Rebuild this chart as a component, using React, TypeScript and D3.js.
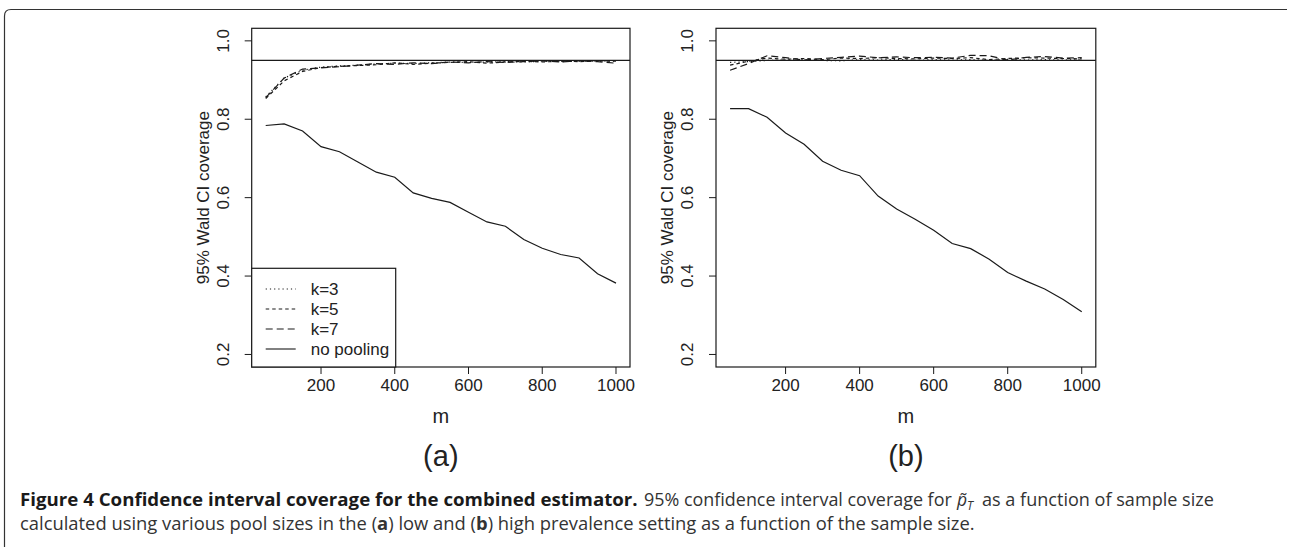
import React, { useLayoutEffect, useRef, useState } from "react";
import * as d3 from "d3";

const mValues = [50, 100, 150, 200, 250, 300, 350, 400, 450, 500, 550, 600, 650, 700, 750, 800, 850, 900, 950, 1000];

const lowK3 = [0.857, 0.905, 0.925, 0.933, 0.936, 0.938, 0.941, 0.943, 0.942, 0.944, 0.946, 0.945, 0.946, 0.947, 0.946, 0.948, 0.947, 0.948, 0.948, 0.949];
const lowK5 = [0.853, 0.898, 0.922, 0.932, 0.935, 0.937, 0.939, 0.944, 0.940, 0.943, 0.945, 0.947, 0.943, 0.946, 0.948, 0.946, 0.948, 0.947, 0.949, 0.948];
const lowK7 = [0.855, 0.905, 0.928, 0.931, 0.934, 0.938, 0.942, 0.940, 0.944, 0.942, 0.946, 0.944, 0.947, 0.945, 0.947, 0.949, 0.946, 0.949, 0.947, 0.943];
const lowNoPool = [0.784, 0.788, 0.770, 0.730, 0.717, 0.691, 0.665, 0.652, 0.612, 0.598, 0.588, 0.563, 0.538, 0.527, 0.493, 0.471, 0.455, 0.446, 0.406, 0.382];

const highK3 = [0.945, 0.947, 0.950, 0.951, 0.952, 0.950, 0.949, 0.952, 0.951, 0.953, 0.950, 0.952, 0.951, 0.952, 0.950, 0.953, 0.951, 0.952, 0.951, 0.952];
const highK5 = [0.938, 0.948, 0.956, 0.953, 0.955, 0.952, 0.956, 0.955, 0.957, 0.955, 0.954, 0.956, 0.955, 0.957, 0.952, 0.955, 0.957, 0.956, 0.955, 0.954];
const highK7 = [0.925, 0.942, 0.962, 0.957, 0.951, 0.955, 0.958, 0.961, 0.957, 0.959, 0.957, 0.958, 0.956, 0.963, 0.962, 0.951, 0.958, 0.960, 0.956, 0.957];
const highNoPool = [0.827, 0.827, 0.805, 0.765, 0.736, 0.693, 0.670, 0.656, 0.604, 0.571, 0.545, 0.517, 0.483, 0.470, 0.443, 0.409, 0.387, 0.367, 0.340, 0.309];

const xTicks = [200, 400, 600, 800, 1000];
const yTicks = [0.2, 0.4, 0.6, 0.8, 1.0];
const targetCoverage = 0.95;
const legendLabels = ["k=3", "k=5", "k=7", "no pooling"];
const panelLabels = ["(a)", "(b)"];
const xTitle = "m";
const yTitle = "95% Wald CI coverage";

const dashes = ["1.2,3", "3.5,3", "7,4", null];
const FONT = "'Liberation Sans', Arial, Helvetica, sans-serif";
const STROKE = "#1a1a1a";

type PanelProps = { left: number; right: number; series: number[][]; label: string; legend: boolean };

function Panel({ left, right, series, label, legend }: PanelProps) {
  const top = 28.3;
  const bottom = 367;
  const x = d3.scaleLinear().domain([12, 1038]).range([left, right]);
  const y = d3.scaleLinear().domain([0.168, 1.032]).range([bottom, top]);
  const line = d3
    .line<number>()
    .x((_, i) => x(mValues[i]))
    .y((d) => y(d));
  const cx = (left + right) / 2;
  const cy = (top + bottom) / 2;
  const legTop = 268.3;
  const legRight = left + 144;
  const legRows = [289, 309, 329, 349];
  return (
    <g>
      <rect x={left} y={top} width={right - left} height={bottom - top} fill="none" stroke={STROKE} strokeWidth={1.2} />
      {xTicks.map((t) => (
        <g key={"x" + t}>
          <line x1={x(t)} x2={x(t)} y1={bottom} y2={bottom + 7} stroke={STROKE} strokeWidth={1} />
          <text x={x(t)} y={bottom + 24} fontSize={17} textAnchor="middle" fontFamily={FONT} fill="#222">
            {t}
          </text>
        </g>
      ))}
      {yTicks.map((t) => (
        <g key={"y" + t}>
          <line x1={left} x2={left - 7} y1={y(t)} y2={y(t)} stroke={STROKE} strokeWidth={1} />
          <text
            transform={`translate(${left - 23},${y(t)}) rotate(-90)`}
            fontSize={17}
            textAnchor="middle"
            fontFamily={FONT}
            fill="#222"
          >
            {t.toFixed(1)}
          </text>
        </g>
      ))}
      <text transform={`translate(${left - 43},${cy}) rotate(-90)`} fontSize={17} textAnchor="middle" fontFamily={FONT} fill="#222">
        {yTitle}
      </text>
      <text x={cx} y={bottom + 56} fontSize={20} textAnchor="middle" fontFamily={FONT} fill="#222">
        {xTitle}
      </text>
      <text x={cx} y={bottom + 99} fontSize={29} textAnchor="middle" fontFamily={FONT} fill="#222">
        {label}
      </text>
      <line x1={left} x2={right} y1={y(targetCoverage)} y2={y(targetCoverage)} stroke={STROKE} strokeWidth={1.2} />
      {series.map((s, i) => (
        <path
          key={"s" + i}
          d={line(s) || ""}
          fill="none"
          stroke={STROKE}
          strokeWidth={1.2}
          strokeDasharray={dashes[i] || undefined}
        />
      ))}
      {legend && (
        <g>
          <rect x={left} y={legTop} width={legRight - left} height={bottom - legTop} fill="white" stroke={STROKE} strokeWidth={1.2} />
          {legendLabels.map((lab, i) => (
            <g key={lab}>
              <line
                x1={left + 14}
                x2={left + 44}
                y1={legRows[i]}
                y2={legRows[i]}
                stroke={STROKE}
                strokeWidth={1.1}
                strokeDasharray={dashes[i] || undefined}
              />
              <text x={left + 59} y={legRows[i] + 6} fontSize={17} fontFamily={FONT} fill="#222">
                {lab}
              </text>
            </g>
          ))}
        </g>
      )}
    </g>
  );
}

const CAP_FONT = "'Open Sans', 'Noto Sans', sans-serif";

type FitProps = { x: number; y: number; width: number; bold?: boolean; children: React.ReactNode };

function FitText({ x, y, width, bold, children }: FitProps) {
  const ref = useRef<SVGTextElement>(null);
  const [sx, setSx] = useState(1);
  useLayoutEffect(() => {
    if (ref.current) {
      const w = ref.current.getBBox().width;
      if (w > 0) setSx(width / w);
    }
  }, [width]);
  return (
    <text
      ref={ref}
      transform={`translate(${x},${y}) scale(${sx},1)`}
      fontSize={17.5}
      fontWeight={bold ? "bold" : "normal"}
      fontFamily={CAP_FONT}
      fill={bold ? "#1a1a1a" : "#333"}
    >
      {children}
    </text>
  );
}

export default function App() {
  return (
    <svg width={1289} height={547} style={{ position: "absolute", left: 0, top: 0, background: "white" }}>
      <rect x={0} y={0} width={1289} height={547} fill="white" />
      <path d="M4.5,547 L4.5,16 Q4.5,9.5 11,9.5 L1287,9.5" fill="none" stroke="#333" strokeWidth={1.2} />
      <Panel left={251.7} right={630} series={[lowK3, lowK5, lowK7, lowNoPool]} label={panelLabels[0]} legend={true} />
      <Panel left={716} right={1095.8} series={[highK3, highK5, highK7, highNoPool]} label={panelLabels[1]} legend={false} />
      <FitText x={20} y={506} width={618} bold={true}>
        Figure 4 Confidence interval coverage for the combined estimator.
      </FitText>
      <FitText x={644} y={506} width={308}>
        95% confidence interval coverage for
      </FitText>
      <text x={957} y={506} fontSize={17.5} fontFamily={CAP_FONT} fill="#333" fontStyle="italic">
        p̃<tspan fontSize={12} dy={4}>T</tspan>
      </text>
      <FitText x={982} y={506} width={232}>
        as a function of sample size
      </FitText>
      <FitText x={20} y={530} width={955}>
        calculated using various pool sizes in the (<tspan fontWeight="bold">a</tspan>) low and (<tspan fontWeight="bold">b</tspan>) high prevalence setting as a function of the sample size.
      </FitText>
    </svg>
  );
}
